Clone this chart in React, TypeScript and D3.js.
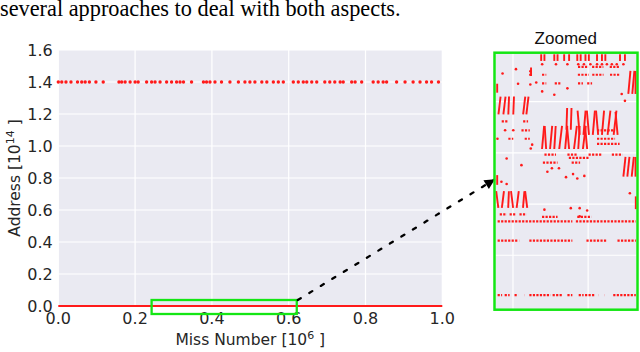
import React from 'react';
import * as d3 from 'd3';

// main plot: misses in 1e6, addresses in 1e14
const xTicks = [0, 0.2, 0.4, 0.6, 0.8, 1.0];
const yTicks = [0, 0.2, 0.4, 0.6, 0.8, 1.0, 1.2, 1.4, 1.6];

// the sparse band of misses near 1.4e14
const highMissX = [
  0.0, 0.009, 0.02, 0.033, 0.05, 0.061, 0.07, 0.081, 0.098, 0.117, 0.158, 0.165, 0.174,
  0.187, 0.2, 0.208, 0.23, 0.243, 0.252, 0.265, 0.282, 0.295, 0.308, 0.317, 0.326, 0.347,
  0.378, 0.386, 0.395, 0.408, 0.425, 0.447, 0.469, 0.486, 0.499, 0.512, 0.53, 0.543, 0.56,
  0.573, 0.586, 0.612, 0.625, 0.638, 0.647, 0.66, 0.673, 0.694, 0.707, 0.72, 0.734, 0.742,
  0.764, 0.773, 0.79, 0.82, 0.833, 0.846, 0.855, 0.881, 0.903, 0.924, 0.942, 0.959, 0.972, 0.99,
];
const highAddr = 1.4;

// the dense band at the bottom (drawn as a line) and the zoom window
const lowBand = [0, 1];
const zoomBox = { x0: 0.243, x1: 0.621, y0: -0.05, y1: 0.0375 };

// zoomed panel, in relative units (0..100 across and up the panel)
const zGridX = [12.4, 65.7];
const zGridY = [21, 41, 61, 81];

// dotted runs: [y, x0, x1]
const zRows: [number, number, number][] = [
  [5.4, 1.5, 4.7], [5.4, 6.5, 10], [5.4, 13.5, 16], [5.4, 20.5, 20.6], [5.4, 24, 39],
  [5.4, 40.5, 47.5], [5.4, 51, 54.5], [5.4, 59, 62.5], [5.4, 63.5, 70.5], [5.4, 73, 73.1],
  [5.4, 77.5, 77.6], [5.4, 83.5, 99.5],
  [26.7, 1.5, 16], [26.7, 17.2, 17.3], [26.7, 24, 54.5], [26.7, 64.5, 79], [26.7, 86.5, 99.5],
  [34.2, 1.5, 54.5], [34.2, 57, 99.5],
  [37, 3, 8], [37, 10, 14], [37, 17, 22], [36, 33, 44], [36, 58, 68],
  [94.6, 58.5, 66], [94.6, 68.5, 76.5], [94.6, 81, 88],
  [91.5, 33, 36], [91.5, 58.4, 66.2], [91.5, 68.6, 76.6], [91.5, 81.2, 88.3],
  [88.1, 33, 36], [88.1, 42, 46], [88.1, 58.5, 62], [88.1, 65, 68.5],
  [73.3, 4.4, 9.1], [73.3, 19.6, 23.1],
  [69.8, 18.4, 24.3], [69.8, 72, 84.8],
  [66.5, 9.1, 12.6], [66.5, 20.7, 24.3], [66.5, 72, 84.8],
  [64.5, 72, 88],
  [60.3, 34.7, 42.9], [60.3, 51, 58], [60.3, 66, 75.5], [60.3, 82.5, 90],
  [59, 52, 66], [57.2, 33.6, 44], [57.2, 54, 60],
];

// short steep streaks: [x, y0, y1, lean]
const zStreaks: [number, number, number, number][] = [
  [32.4, 96.9, 99.5, 0], [34.7, 96.9, 99.5, 0], [41.7, 96.9, 99.5, 0], [44, 96.9, 99.5, 0],
  [48.7, 96.9, 99.5, 0], [52.2, 96.9, 99.5, 0], [58, 96.9, 99.5, 0], [60.4, 96.9, 99.5, 0],
  [63.8, 96.9, 99.5, 0], [66.2, 96.9, 99.5, 0], [72, 96.9, 99.5, 0], [75.5, 96.9, 99.5, 0],
  [77.9, 96.9, 99.5, 0], [88.3, 96.9, 99.5, 0], [91.8, 96.9, 99.5, 0],
  [50.3, 70, 78.5, 0.5], [53.4, 70, 78.5, 0.5], [59.7, 68, 77.5, -1.5], [62.4, 68, 77.5, 1.5],
  [66.3, 68, 77.5, -1.5], [69, 68, 77.5, 1.5], [72.8, 68, 77.5, -1.5], [75.5, 68, 77.5, 1.5],
  [79.5, 68, 77.5, 2], [83.8, 68, 77.5, 2], [86.6, 68, 77, -1.5],
  [33, 62.5, 71.5, 1.5], [35.9, 62.5, 71.5, -1], [38.7, 62.5, 71.5, 1.5], [41.7, 62.5, 71.5, 1],
  [45.2, 62.5, 71.5, 2], [49.4, 62.5, 71.5, 1.5], [52.2, 62.5, 71.5, -1.5], [55.7, 62.5, 71.5, 2],
  [58.7, 62.5, 71.5, 1], [62, 62.5, 71.5, 2], [65, 62.5, 71.5, -1.5],
  [2.1, 76, 83, 1.5], [5.6, 76, 83, 1.5], [9.1, 76, 83, 0.5], [12.6, 76, 83, 0.5],
  [19.6, 76, 83, 1.5], [21.9, 76, 83, 1.5],
  [2, 39.5, 46, -1.5], [4.5, 39.5, 46, 1.5], [9, 39.5, 46, 0.5], [12.5, 39.5, 46, -1.5],
  [15, 39.5, 46, 1.5], [19.5, 39.5, 46, 1], [22.5, 39.5, 46, -1.5],
  [94.2, 84, 93, 1.5], [97, 84, 93, 1.5], [99.3, 84, 93, 0],
  [90.7, 51.7, 59.4, 1.5], [93.5, 51.7, 59.4, 1.5], [96.6, 51.7, 59.4, 1.5], [99.3, 51.7, 59.4, 0],
  [99.5, 39, 44, 0], [1.2, 84.5, 88, 0], [1.2, 48.5, 52.3, 0], [25.2, 91, 94.3, 0],
];

// isolated misses: [x, y]
const zDots: [number, number][] = [
  [14.5, 93.7], [24.7, 92.9], [24.7, 91.5], [28.9, 88.5], [24.7, 87.7], [33.1, 85],
  [41.7, 83.7], [51, 86.2], [89.5, 84], [91.8, 81.3], [16, 88], [5, 92],
  [33.1, 95.6], [42.9, 95.6], [51, 95.6], [58.7, 95.6], [62.7, 95.6], [67.3, 95.6],
  [72, 95.6], [75.5, 95.6], [79, 95.6], [82.5, 95.6], [86, 95.6], [90.7, 95.6],
  [1.4, 66.5], [6.8, 69.8], [12.6, 69.8], [26, 64.2], [25, 62.7], [7.9, 58.8], [18.4, 56.2],
  [36.8, 53.6], [40, 55], [45, 55], [50, 51.5], [55, 52.7], [58, 51], [63, 52],
  [34.7, 38.8], [53.4, 39.4], [59.7, 39.4], [59.7, 36.2], [65, 38.5], [7.9, 48.8],
  [4.2, 49.7], [95.3, 45.2],
];

const RED = '#ff1a1a';
const GREEN = '#14e614';
const BG = '#eaeaf2';
const TXT = '#262626';
const FONT = '"DejaVu Sans", sans-serif';

const x = d3.scaleLinear().domain([0, 1]).range([58.3, 442.3]);
const y = d3.scaleLinear().domain([0, 1.6]).range([306, 50]);
const zx = d3.scaleLinear().domain([0, 100]).range([495.5, 636.5]);
const zy = d3.scaleLinear().domain([0, 100]).range([309, 53]);

export default function App() {
  const fmt = d3.format('.1f');
  const arrowFrom: [number, number] = [x(zoomBox.x1) + 1, y(zoomBox.y1)];
  const arrowTo: [number, number] = [zx(-1), zy(50.5)];
  return (
    <svg width={640} height={352} style={{ position: 'absolute', left: 0, top: 0 }}>
      <defs>
        <marker id="head" viewBox="0 0 10 10" refX="9" refY="5" markerWidth="5" markerHeight="4.5"
          orient="auto" markerUnits="strokeWidth">
          <path d="M0,0 L10,5 L0,10 z" fill="#000" />
        </marker>
      </defs>

      <text x={0} y={16} fontFamily='"Liberation Serif", serif' fontSize={22.3} fill="#000">
        several approaches to deal with both aspects.
      </text>

      {/* main axes */}
      <rect x={x(0)} y={y(1.6)} width={x(1) - x(0)} height={y(0) - y(1.6)} fill={BG} />
      {xTicks.map(t => (
        <line key={'gx' + t} x1={x(t)} x2={x(t)} y1={y(0)} y2={y(1.6)} stroke="#fff" strokeWidth={1.2} />
      ))}
      {yTicks.map(t => (
        <line key={'gy' + t} x1={x(0)} x2={x(1)} y1={y(t)} y2={y(t)} stroke="#fff" strokeWidth={1.2} />
      ))}
      {yTicks.map(t => (
        <text key={'ty' + t} x={52.7} y={y(t)} dy="0.36em" textAnchor="end"
          fontFamily={FONT} fontSize={16} fill={TXT}>{fmt(t)}</text>
      ))}
      {xTicks.map(t => (
        <text key={'tx' + t} x={x(t)} y={324.3} textAnchor="middle"
          fontFamily={FONT} fontSize={16} fill={TXT}>{fmt(t)}</text>
      ))}
      <text x={(x(0) + x(1)) / 2} y={345} textAnchor="middle" fontFamily={FONT} fontSize={15.5} fill={TXT}>
        Miss Number [10<tspan dy={-6} fontSize={11}>6</tspan><tspan dy={6}> ]</tspan>
      </text>
      <text transform={`translate(19.5,${(y(0) + y(1.6)) / 2}) rotate(-90)`} textAnchor="middle"
        fontFamily={FONT} fontSize={15.5} fill={TXT}>
        Address [10<tspan dy={-6} fontSize={11}>14</tspan><tspan dy={6}> ]</tspan>
      </text>

      {highMissX.map((m, i) => (
        <circle key={'h' + i} cx={x(m)} cy={y(highAddr)} r={1.7} fill={RED} />
      ))}
      <line x1={x(lowBand[0])} x2={x(lowBand[1])} y1={y(0)} y2={y(0)} stroke={RED} strokeWidth={1.8} />

      <rect x={x(zoomBox.x0)} y={y(zoomBox.y1)} width={x(zoomBox.x1) - x(zoomBox.x0)}
        height={y(zoomBox.y0) - y(zoomBox.y1)} fill="none" stroke={GREEN} strokeWidth={2.3} />

      <line x1={arrowFrom[0]} y1={arrowFrom[1]} x2={arrowTo[0]} y2={arrowTo[1]} stroke="#000"
        strokeWidth={2.3} strokeDasharray="3.5 10" strokeLinecap="round" markerEnd="url(#head)" />

      {/* zoomed panel */}
      <text x={565.8} y={44} textAnchor="middle" fontFamily='"Liberation Sans", Arial, sans-serif'
        fontSize={17} fill="#111">Zoomed</text>
      <rect x={zx(0)} y={zy(100)} width={zx(100) - zx(0)} height={zy(0) - zy(100)} fill={BG} />
      {zGridX.map(g => (
        <line key={'zgx' + g} x1={zx(g)} x2={zx(g)} y1={zy(0)} y2={zy(100)} stroke="#fff" strokeWidth={1.2} />
      ))}
      {zGridY.map(g => (
        <line key={'zgy' + g} x1={zx(0)} x2={zx(100)} y1={zy(g)} y2={zy(g)} stroke="#fff" strokeWidth={1.2} />
      ))}
      {zRows.map(([ry, a, b], i) => (
        <line key={'zr' + i} x1={zx(a)} x2={zx(b) + 0.01} y1={zy(ry)} y2={zy(ry)} stroke={RED}
          strokeWidth={2.2} strokeDasharray="2.2 1.3" />
      ))}
      {zStreaks.map(([sx, a, b, lean], i) => (
        <line key={'zs' + i} x1={zx(sx)} x2={zx(sx + lean)} y1={zy(a)} y2={zy(b)} stroke={RED}
          strokeWidth={1.9} />
      ))}
      {zDots.map(([dx, dy], i) => (
        <circle key={'zd' + i} cx={zx(dx)} cy={zy(dy)} r={1.3} fill={RED} />
      ))}
      <rect x={494.5} y={52.7} width={143} height={257} fill="none" stroke={GREEN} strokeWidth={2.5} />
    </svg>
  );
}
